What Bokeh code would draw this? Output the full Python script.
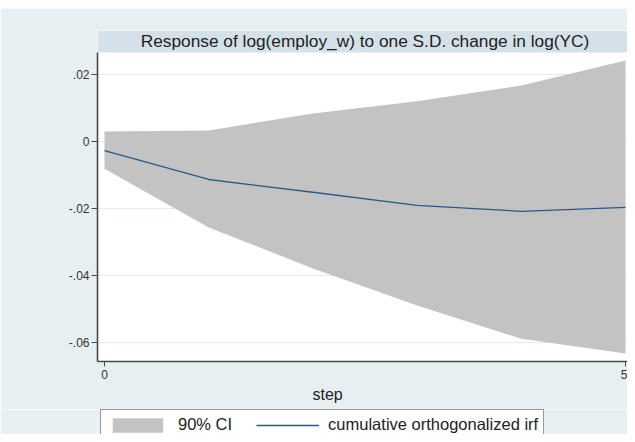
from bokeh.plotting import figure
from bokeh.layouts import column
from bokeh.models import (Range1d, FixedTicker, BoxAnnotation, Label, Legend, LegendItem,
                          Title, Spacer)
from bokeh.embed import file_html
from bokeh.resources import INLINE

# ---- data ----
steps = [0, 1, 2, 3, 4, 5]
irf = [-0.0027, -0.0113, -0.0151, -0.0190, -0.0208, -0.0196]
ci_lower = [-0.0081, -0.0256, -0.0378, -0.0489, -0.0588, -0.0632]
ci_upper = [0.0030, 0.0033, 0.0084, 0.0120, 0.0167, 0.0242]
y_ticks = [-0.06, -0.04, -0.02, 0, 0.02]
y_tick_labels = ["-.06", "-.04", "-.02", "0", ".02"]
x_ticks = [0, 5]
x_tick_labels = ["0", "5"]
title_text = "Response of log(employ_w) to one S.D. change in log(YC)"
x_title = "step"
legend_labels = ["90% CI", "cumulative orthogonalized irf"]

# ---- layout constants ----
X_START, X_END = -0.0672, 5.019
Y_START, Y_END = -0.06556, 0.03312
Y_PLOT_TOP = 0.02657
FONT = "Liberation Sans"
BG = "#e8eff2"
BAND = "#c3c3c3"
LINE = "#2a5a8a"
W = 627
LEFT = 97

p = figure(width=W, height=401, output_backend="svg", toolbar_location=None,
           x_range=Range1d(X_START, X_END), y_range=Range1d(Y_START, Y_END),
           min_border_left=LEFT, min_border_right=0, min_border_top=22,
           min_border_bottom=48, background_fill_color="white",
           border_fill_color=BG, outline_line_color=None)

# grid
p.xgrid.visible = False
p.ygrid.ticker = FixedTicker(ticks=y_ticks)
p.ygrid.grid_line_color = "#e3ecef"
p.ygrid.grid_line_width = 1

# axes
for ax in (p.xaxis, p.yaxis):
    ax.axis_line_color = "#4a4a4a"
    ax.axis_line_width = 1.6
    ax.major_tick_line_color = "#4a4a4a"
    ax.major_tick_line_width = 1
    ax.major_tick_in = 0
    ax.minor_tick_line_color = None
    ax.major_label_text_font = FONT
    ax.major_label_text_font_size = "12px"
    ax.major_label_text_color = "#333333"

p.yaxis.ticker = FixedTicker(ticks=y_ticks)
p.yaxis.major_label_overrides = {t: l for t, l in zip(y_ticks, y_tick_labels)}
p.yaxis.major_tick_out = 6
p.yaxis.major_label_standoff = 2
p.yaxis.bounds = (Y_START, Y_PLOT_TOP)

p.xaxis.ticker = FixedTicker(ticks=x_ticks)
p.xaxis.major_label_overrides = {t: l for t, l in zip(x_ticks, x_tick_labels)}
p.xaxis.major_tick_out = 5
p.xaxis.major_label_standoff = 3

# data glyphs
band = p.varea(x=steps, y1=ci_lower, y2=ci_upper, fill_color=BAND, fill_alpha=1)
line = p.line(x=steps, y=irf, line_color=LINE, line_width=1.3)

# title band
p.add_layout(BoxAnnotation(bottom=Y_PLOT_TOP, fill_color="#d5e1e9", fill_alpha=1,
                           line_color=None, level="underlay"))
p.add_layout(Label(x=(steps[0] + steps[-1]) / 2, y=(Y_PLOT_TOP + Y_END) / 2,
                   text=title_text, text_align="center", text_baseline="middle",
                   text_font=FONT, text_font_size="17.3px", text_color="#222222"))

# x title (below the axis)
p.add_layout(Title(text=x_title, align="left", offset=215, standoff=5,
                   text_font=FONT, text_font_size="16px", text_font_style="normal",
                   text_color="#222222"), "below")

# legend strip (separate canvas; the legend box runs off the bottom like the original)
q = figure(width=W, height=25, output_backend="svg", toolbar_location=None,
           x_axis_type=None, y_axis_type=None,
           x_range=Range1d(X_START, X_END), y_range=Range1d(1, 2),
           min_border_left=LEFT, min_border_right=0, min_border_top=0, min_border_bottom=0,
           background_fill_color=BG, border_fill_color=BG, outline_line_color=None)
q.xgrid.visible = False
q.ygrid.visible = False
# same series, outside this strip's view: only their legend keys show
band_key = q.varea(x=steps, y1=ci_lower, y2=ci_upper, fill_color=BAND, fill_alpha=1)
line_key = q.line(x=steps, y=irf, line_color=LINE, line_width=1.3)
legend = Legend(items=[LegendItem(label=legend_labels[0], renderers=[band_key]),
                       LegendItem(label=legend_labels[1], renderers=[line_key])],
                orientation="horizontal", location=(3, -6),
                padding=5, spacing=24, margin=0, glyph_width=63, glyph_height=18,
                label_standoff=9, label_text_font=FONT, label_text_font_size="16.5px",
                label_text_color="#222222", border_line_color="#333333",
                border_line_width=1, background_fill_color="white",
                background_fill_alpha=1)
q.add_layout(legend, "center")

layout = column(Spacer(width=W, height=8), p, q, spacing=0)

open("out.html", "w").write(file_html(layout, INLINE))
